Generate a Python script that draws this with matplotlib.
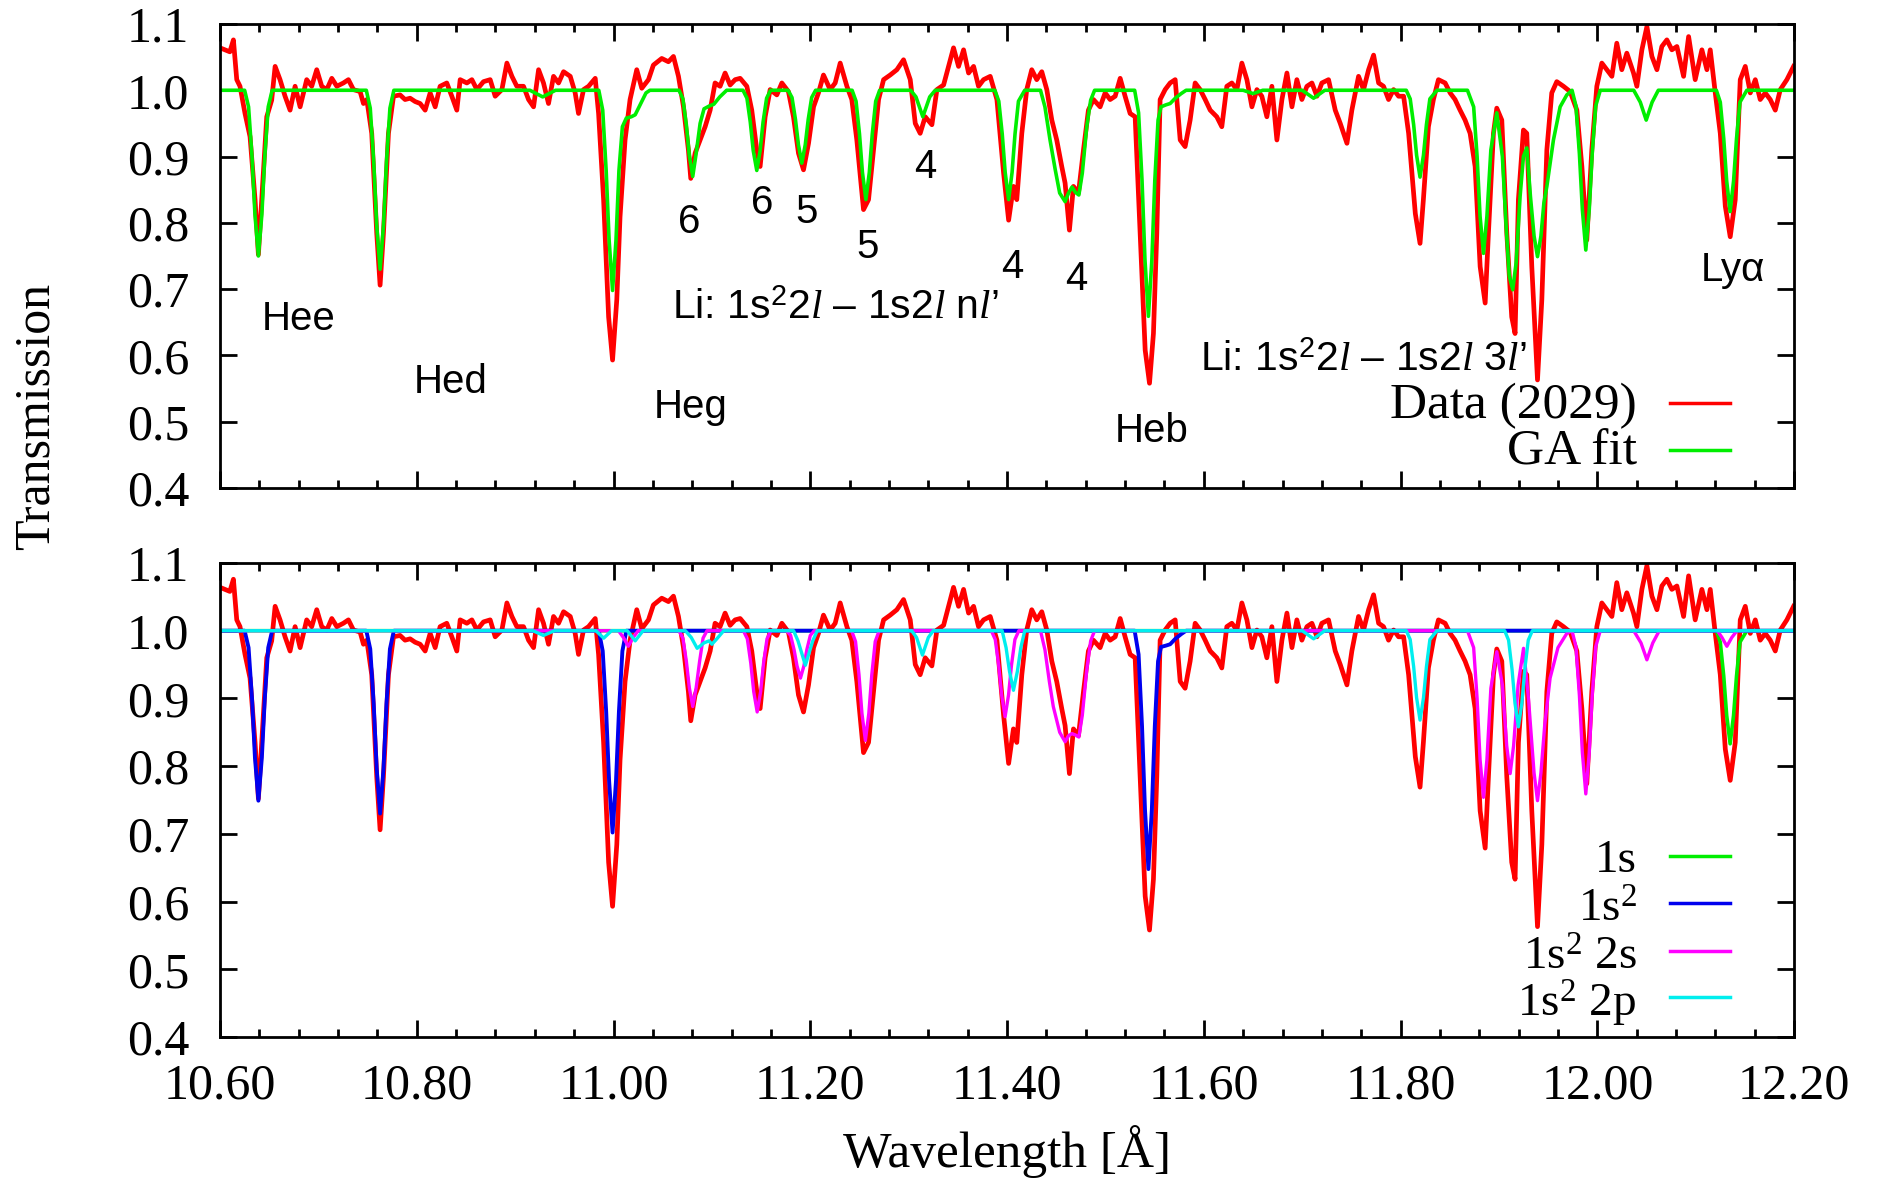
import matplotlib
matplotlib.use("Agg")
import matplotlib.pyplot as plt
from matplotlib.ticker import MultipleLocator, FormatStrFormatter
from matplotlib.lines import Line2D

# measured spectrum (2029), wavelength [A] / transmission
data_wl = [
    10.600, 10.605, 10.610, 10.6136, 10.617, 10.6203, 10.6254, 10.6305, 10.6356, 10.639, 10.6424, 10.6475,
    10.6525, 10.656, 10.661, 10.6661, 10.6712, 10.6763, 10.6814, 10.6881, 10.6932, 10.6983, 10.7034, 10.7085,
    10.7136, 10.7187, 10.7254, 10.7305, 10.7356, 10.7424, 10.7458, 10.7492, 10.7542, 10.7593, 10.7627, 10.7661,
    10.7712, 10.7763, 10.783, 10.7881, 10.7932, 10.7983, 10.8034, 10.8085, 10.8136, 10.8187, 10.8237, 10.8305,
    10.8356, 10.8407, 10.8441, 10.8509, 10.856, 10.8611, 10.8678, 10.8746, 10.8797, 10.8865, 10.8916, 10.8967,
    10.9017, 10.9085, 10.9136, 10.9187, 10.9238, 10.9288, 10.9339, 10.939, 10.9441, 10.9492, 10.956, 10.961,
    10.9644, 10.9695, 10.9746, 10.9814, 10.9848, 10.9899, 10.995, 10.999,
    11.0033, 11.0066, 11.0117, 11.0168, 11.0236, 11.0287, 11.0355, 11.0405, 11.049, 11.0558, 11.0609, 11.066,
    11.0711, 11.0761, 11.0785, 11.0829, 11.088, 11.0931, 11.0982, 11.1032, 11.1083, 11.1134, 11.1185, 11.1236,
    11.1287, 11.1355, 11.1405, 11.1456, 11.149, 11.1541, 11.1592, 11.166, 11.1711, 11.1778, 11.1829, 11.188,
    11.1931, 11.1982, 11.2033, 11.2083, 11.2134, 11.2202, 11.2253, 11.2304, 11.2372, 11.2422, 11.2473, 11.2541,
    11.2592, 11.2643, 11.2694, 11.2745, 11.2812, 11.288, 11.2948, 11.3016, 11.3067, 11.3117, 11.3168, 11.3236,
    11.3287, 11.3355, 11.3405, 11.3456, 11.3507, 11.3558, 11.3609, 11.366, 11.371, 11.3761, 11.3829, 11.3897,
    11.3965, 11.4016,
    11.4065, 11.4099, 11.415, 11.420, 11.4251, 11.4302, 11.4353, 11.4404, 11.4455, 11.4505, 11.4556, 11.459,
    11.4634, 11.4675, 11.4726, 11.4777, 11.4827, 11.4878, 11.4946, 11.4997, 11.5048, 11.5099, 11.515, 11.520,
    11.5251, 11.5302, 11.5353, 11.5404, 11.5448, 11.5488, 11.5522, 11.5556, 11.5607, 11.5658, 11.5709, 11.576,
    11.581, 11.5861, 11.5912, 11.5963, 11.6014, 11.6065, 11.6132, 11.6183, 11.6234, 11.6285, 11.6336, 11.6387,
    11.6438, 11.6489, 11.654, 11.659, 11.6641, 11.6692, 11.6743, 11.6794, 11.6845, 11.6896, 11.6946, 11.6997,
    11.7048, 11.7099, 11.715, 11.720, 11.7268, 11.7336, 11.7387, 11.7455, 11.7505, 11.7573, 11.7624, 11.7675,
    11.7726, 11.7777, 11.7827, 11.7878, 11.7929, 11.798, 11.8031, 11.8082, 11.815,
    11.8198, 11.8232, 11.8283, 11.8334, 11.8385, 11.8453, 11.8504, 11.8554, 11.8605, 11.8656, 11.8707, 11.8758,
    11.8809, 11.886, 11.8893, 11.8944, 11.8978, 11.9029, 11.908, 11.913, 11.9164, 11.9198, 11.9249, 11.9283,
    11.9334, 11.9392, 11.9436, 11.9487, 11.9537, 11.9588, 11.9656, 11.9724, 11.9792, 11.9843, 11.9893, 11.9944,
    11.9995, 12.0046, 12.0097, 12.0148, 12.0198, 12.0249, 12.030, 12.0368, 12.0402, 12.0453, 12.0504, 12.0555,
    12.0606, 12.0656, 12.0707, 12.0758, 12.0809, 12.0877, 12.0928, 12.0995, 12.1063, 12.1114, 12.1148, 12.1199,
    12.125, 12.1301, 12.1351, 12.1402, 12.1453, 12.1504, 12.1555, 12.1606, 12.1656, 12.1707, 12.1758, 12.1809,
    12.186, 12.1927, 12.1995,
]
data_tr = [
    1.064, 1.061, 1.058, 1.076, 1.016, 1.006, 0.965, 0.930, 0.835, 0.752, 0.835, 0.960,
    0.985, 1.036, 1.016, 0.991, 0.970, 1.006, 0.975, 1.016, 1.006, 1.031, 1.006, 1.001,
    1.018, 1.006, 1.011, 1.016, 1.001, 0.998, 0.980, 0.986, 0.935, 0.784, 0.706, 0.784,
    0.935, 0.991, 0.993, 0.986, 0.988, 0.983, 0.980, 0.970, 0.996, 0.975, 1.006, 1.011,
    0.991, 0.970, 1.016, 1.011, 1.016, 1.001, 1.013, 1.016, 0.991, 1.001, 1.041, 1.021,
    1.006, 1.006, 0.986, 0.975, 1.031, 1.011, 0.980, 1.021, 1.011, 1.028, 1.021, 0.996,
    0.965, 1.001, 1.006, 1.018, 0.965, 0.835, 0.658, 0.593,
    0.684, 0.809, 0.925, 0.986, 1.031, 1.003, 1.016, 1.038, 1.048, 1.043, 1.051, 1.021,
    0.975, 0.910, 0.867, 0.905, 0.925, 0.945, 0.970, 1.011, 1.006, 1.026, 1.008, 1.016,
    1.018, 1.006, 0.970, 0.910, 0.885, 0.960, 1.001, 0.993, 1.011, 0.998, 0.960, 0.905,
    0.880, 0.920, 0.975, 0.996, 1.023, 1.001, 1.011, 1.041, 1.006, 0.986, 0.925, 0.820,
    0.835, 0.910, 0.986, 1.016, 1.023, 1.031, 1.046, 1.016, 0.950, 0.935, 0.960, 0.948,
    1.001, 1.008, 1.036, 1.064, 1.036, 1.061, 1.026, 1.036, 1.006, 1.016, 1.021, 0.986,
    0.875, 0.804,
    0.855, 0.835, 0.935, 1.001, 1.031, 1.016, 1.028, 1.001, 0.955, 0.925, 0.885, 0.860,
    0.789, 0.855, 0.845, 0.910, 0.970, 0.986, 0.975, 0.996, 0.986, 0.991, 1.018, 0.991,
    0.965, 0.960, 0.784, 0.608, 0.558, 0.633, 0.784, 0.986, 1.001, 1.011, 1.016, 0.925,
    0.915, 0.955, 1.011, 1.001, 0.986, 0.970, 0.960, 0.945, 1.006, 1.011, 1.001, 1.041,
    1.016, 0.975, 1.001, 0.991, 0.960, 1.006, 0.925, 0.986, 1.026, 0.975, 1.016, 0.986,
    1.006, 1.011, 0.991, 1.011, 1.016, 0.970, 0.950, 0.920, 0.970, 1.021, 1.001, 1.031,
    1.053, 1.011, 1.006, 0.986, 1.001, 0.991, 0.991, 0.935, 0.814,
    0.769, 0.835, 0.945, 0.986, 1.016, 1.011, 0.996, 0.986, 0.970, 0.955, 0.935, 0.885,
    0.734, 0.679, 0.784, 0.935, 0.973, 0.955, 0.784, 0.658, 0.633, 0.835, 0.940, 0.935,
    0.734, 0.563, 0.684, 0.910, 0.996, 1.013, 1.006, 0.998, 0.970, 0.885, 0.774, 0.910,
    1.006, 1.041, 1.031, 1.021, 1.071, 1.031, 1.056, 1.026, 1.006, 1.061, 1.096, 1.051,
    1.031, 1.066, 1.076, 1.061, 1.066, 1.021, 1.081, 1.016, 1.061, 1.031, 1.061, 0.996,
    0.935, 0.825, 0.779, 0.835, 1.016, 1.036, 0.996, 1.016, 0.986, 0.996, 0.986, 0.970,
    1.001, 1.016, 1.036,
]

# GA fit (total model)
fit_wl = [
    10.600, 10.625, 10.629, 10.6325, 10.6355, 10.639, 10.6425, 10.6455, 10.649, 10.653,
    10.7487, 10.7527, 10.7562, 10.7592, 10.7627, 10.7662, 10.7692, 10.7727, 10.7767,
    10.915, 10.928, 10.941,
    10.985, 10.989, 10.9925, 10.9955, 10.999, 11.0025, 11.0055, 11.009, 11.013, 11.018, 11.022, 11.027, 11.033, 11.037,
    11.0665, 11.0705, 11.074, 11.077, 11.0805, 11.084, 11.088, 11.092, 11.097, 11.102, 11.108, 11.115,
    11.1316, 11.1356, 11.139, 11.142, 11.1456, 11.149, 11.152, 11.1556, 11.1596,
    11.1774, 11.1814, 11.1849, 11.1879, 11.1914, 11.1949, 11.1979, 11.2014, 11.2054,
    11.2425, 11.2465, 11.250, 11.253, 11.2565, 11.260, 11.263, 11.2665, 11.2705,
    11.302, 11.3074, 11.3109, 11.3144, 11.3179, 11.3214, 11.327,
    11.3876, 11.3916, 11.3951, 11.3981, 11.4016, 11.4051, 11.4081, 11.4116, 11.418,
    11.434, 11.4385, 11.4437, 11.449, 11.4535, 11.459, 11.4625, 11.466, 11.4695, 11.473, 11.4765, 11.481, 11.485, 11.489,
    11.5297, 11.5337, 11.5372, 11.5402, 11.5437, 11.5472, 11.5502, 11.5535, 11.5565, 11.5615, 11.5658, 11.571, 11.577, 11.582,
    11.640, 11.650, 11.660, 11.700, 11.7116, 11.723,
    11.8058, 11.8098, 11.8133, 11.8163, 11.8198, 11.8233, 11.8263, 11.8298, 11.837,
    11.868, 11.8743, 11.8778, 11.8808, 11.8843, 11.8878, 11.8918, 11.8978, 11.9035, 11.9075, 11.9105, 11.914,
    11.9175, 11.9215, 11.9249, 11.9283, 11.932, 11.9357, 11.9392, 11.9427, 11.9457, 11.9487, 11.9554, 11.9622, 11.969,
    11.9743, 11.9783, 11.9818, 11.9848, 11.9883, 11.9918, 11.9948, 11.9983, 12.003,
    12.037, 12.0437, 12.0497, 12.0557, 12.062,
    12.121, 12.125, 12.1285, 12.1315, 12.135, 12.1385, 12.1415, 12.145, 12.152, 12.200,
]
fit_tr = [
    1.000, 1.000, 0.975, 0.900, 0.8125, 0.750, 0.8125, 0.900, 0.975, 1.000,
    1.000, 0.973, 0.892, 0.797, 0.730, 0.797, 0.892, 0.973, 1.000,
    1.000, 0.990, 1.000,
    1.000, 0.970, 0.879, 0.774, 0.698, 0.774, 0.879, 0.945, 0.958, 0.960, 0.963, 0.978, 0.996, 1.000,
    1.000, 0.987, 0.948, 0.902, 0.870, 0.905, 0.950, 0.972, 0.976, 0.979, 0.990, 1.000,
    1.000, 0.988, 0.952, 0.909, 0.879, 0.909, 0.952, 0.988, 1.000,
    1.000, 0.989, 0.956, 0.918, 0.890, 0.918, 0.956, 0.989, 1.000,
    1.000, 0.9835, 0.934, 0.876, 0.835, 0.876, 0.934, 0.9835, 1.000,
    1.000, 0.990, 0.975, 0.960, 0.975, 0.990, 1.000,
    1.000, 0.9835, 0.934, 0.876, 0.835, 0.876, 0.934, 0.9835, 1.000,
    1.000, 0.975, 0.925, 0.880, 0.845, 0.832, 0.845, 0.854, 0.846, 0.842, 0.875, 0.945, 0.985, 1.000,
    1.000, 0.966, 0.864, 0.744, 0.659, 0.744, 0.864, 0.955, 0.975, 0.978, 0.980, 0.988, 0.995, 1.000,
    1.000, 0.995, 1.000, 1.000, 0.988, 1.000,
    1.000, 0.987, 0.948, 0.902, 0.869, 0.902, 0.948, 0.987, 1.000,
    1.000, 0.975, 0.900, 0.810, 0.754, 0.810, 0.910, 0.966, 0.900, 0.790, 0.720, 0.699,
    0.740, 0.840, 0.900, 0.913, 0.840, 0.780, 0.749, 0.780, 0.830, 0.855, 0.925, 0.975, 0.993,
    1.000, 0.976, 0.904, 0.820, 0.759, 0.820, 0.904, 0.976, 1.000,
    1.000, 0.982, 0.955, 0.982, 1.000,
    1.000, 0.982, 0.927, 0.863, 0.817, 0.863, 0.927, 0.982, 1.000, 1.000,
]

# fit components
s1_wl = [10.600, 12.121, 12.125, 12.1285, 12.1315, 12.135, 12.1385, 12.1415, 12.145, 12.152, 12.200]
s1_tr = [1.000, 1.000, 0.983, 0.933, 0.875, 0.833, 0.875, 0.933, 0.983, 1.000, 1.000]

s2_wl = [
    10.600, 10.625, 10.629, 10.6325, 10.6355, 10.639, 10.6425, 10.6455, 10.649, 10.653,
    10.7487, 10.7527, 10.7562, 10.7592, 10.7627, 10.7662, 10.7692, 10.7727, 10.7767,
    10.985, 10.989, 10.9925, 10.9955, 10.999, 11.0025, 11.0055, 11.009, 11.013,
    11.5297, 11.5337, 11.5372, 11.5402, 11.5437, 11.5472, 11.5502, 11.5535, 11.5565, 11.5615, 11.5658, 11.571,
    11.577, 11.582, 12.200,
]
s2_tr = [
    1.000, 1.000, 0.975, 0.900, 0.8125, 0.749, 0.8125, 0.900, 0.975, 1.000,
    1.000, 0.973, 0.892, 0.797, 0.730, 0.797, 0.892, 0.973, 1.000,
    1.000, 0.970, 0.881, 0.778, 0.702, 0.778, 0.881, 0.970, 1.000,
    1.000, 0.965, 0.859, 0.736, 0.648, 0.736, 0.859, 0.955, 0.976, 0.978, 0.980, 0.988,
    0.995, 1.000, 1.000,
]

s2s_wl = [
    10.600, 11.005, 11.010, 11.015, 11.020, 11.025,
    11.0665, 11.0705, 11.074, 11.077, 11.0805, 11.084, 11.0875, 11.091, 11.095,
    11.132, 11.136, 11.1395, 11.1425, 11.146, 11.1495, 11.1525, 11.156, 11.160,
    11.176, 11.180, 11.1835, 11.1865, 11.190, 11.1935, 11.1965, 11.200, 11.204,
    11.242, 11.246, 11.2495, 11.2525, 11.256, 11.2595, 11.2625, 11.266, 11.270,
    11.384, 11.388, 11.3915, 11.3945, 11.398, 11.4015, 11.4045, 11.408, 11.412,
    11.434, 11.4385, 11.443, 11.447, 11.4535, 11.459, 11.4625, 11.466, 11.4695, 11.473, 11.4765, 11.481, 11.485, 11.489,
    11.868, 11.8743, 11.8778, 11.8808, 11.8843, 11.8878, 11.8918, 11.8978, 11.9035, 11.9079, 11.9114, 11.9149,
    11.9195, 11.925, 11.930, 11.9357, 11.9392, 11.9427, 11.9465, 11.952, 11.960, 11.969,
    11.9743, 11.9783, 11.9818, 11.9848, 11.9883, 11.9918, 11.9948, 11.9983, 12.003,
    12.037, 12.0444, 12.0504, 12.0564, 12.063,
    12.122, 12.1267, 12.1317, 12.1367, 12.142, 12.200,
]
s2s_tr = [
    1.000, 1.000, 0.990, 0.977, 0.990, 1.000,
    1.000, 0.989, 0.955, 0.916, 0.888, 0.916, 0.955, 0.989, 1.000,
    1.000, 0.988, 0.952, 0.910, 0.880, 0.910, 0.952, 0.988, 1.000,
    1.000, 0.993, 0.972, 0.948, 0.930, 0.948, 0.972, 0.993, 1.000,
    1.000, 0.984, 0.935, 0.878, 0.838, 0.878, 0.935, 0.984, 1.000,
    1.000, 0.987, 0.949, 0.905, 0.873, 0.905, 0.949, 0.987, 1.000,
    1.000, 0.972, 0.925, 0.888, 0.850, 0.836, 0.845, 0.848, 0.846, 0.843, 0.875, 0.942, 0.985, 1.000,
    1.000, 0.975, 0.900, 0.810, 0.754, 0.810, 0.915, 0.969, 0.920, 0.830, 0.789, 0.830,
    0.920, 0.974, 0.900, 0.790, 0.749, 0.790, 0.860, 0.930, 0.975, 0.996,
    1.000, 0.976, 0.904, 0.820, 0.759, 0.820, 0.904, 0.976, 1.000,
    1.000, 0.982, 0.957, 0.982, 1.000,
    1.000, 0.990, 0.977, 0.990, 1.000, 1.000,
]

s2p_wl = [
    10.600, 10.918, 10.9288, 10.940, 10.982, 10.990, 10.998, 11.014, 11.022, 11.030,
    11.073, 11.079, 11.085, 11.092, 11.097, 11.100, 11.105, 11.112,
    11.183, 11.1875, 11.195, 11.2025, 11.207,
    11.303, 11.308, 11.314, 11.320, 11.325,
    11.395, 11.399, 11.4025, 11.4065, 11.4105, 11.414, 11.418,
    11.700, 11.7116, 11.723,
    11.8058, 11.8098, 11.8133, 11.8163, 11.8198, 11.8233, 11.8263, 11.8298, 11.837,
    11.9058, 11.9098, 11.9133, 11.9163, 11.9198, 11.9233, 11.9263, 11.9298, 11.934, 12.200,
]
s2p_tr = [
    1.000, 1.000, 0.993, 1.000, 1.000, 0.989, 1.000, 1.000, 0.985, 1.000,
    1.000, 0.990, 0.974, 0.982, 0.985, 0.980, 0.988, 1.000,
    1.000, 0.985, 0.949, 0.985, 1.000,
    1.000, 0.990, 0.964, 0.990, 1.000,
    1.000, 0.975, 0.940, 0.912, 0.940, 0.975, 1.000,
    1.000, 0.988, 1.000,
    1.000, 0.987, 0.947, 0.901, 0.868, 0.901, 0.947, 0.987, 1.000,
    1.000, 0.986, 0.943, 0.893, 0.858, 0.893, 0.943, 0.986, 1.000, 1.000,
]

plt.rcParams['font.family'] = ['Liberation Serif', 'DejaVu Serif']
plt.rcParams['mathtext.fontset'] = 'custom'
plt.rcParams['mathtext.it'] = 'Liberation Serif:italic'
plt.rcParams['mathtext.rm'] = 'Liberation Sans'
plt.rcParams['mathtext.sf'] = 'Liberation Serif'

RED = '#ff0000'
GREEN = '#00ee00'
BLUE = '#0000ee'
MAGENTA = '#ff00ff'
CYAN = '#00eeee'

fig = plt.figure(figsize=(18.79, 11.81), dpi=100)
ax1 = fig.add_axes([0.1171, 0.5868, 0.8377, 0.3929])
ax2 = fig.add_axes([0.1171, 0.1219, 0.8377, 0.4014])


def style(ax, labels):
    ax.set_xlim(10.6, 12.2)
    ax.set_ylim(0.4, 1.1)
    ax.xaxis.set_major_locator(MultipleLocator(0.2))
    ax.xaxis.set_minor_locator(MultipleLocator(0.04))
    ax.yaxis.set_major_locator(MultipleLocator(0.1))
    ax.xaxis.set_major_formatter(FormatStrFormatter('%.2f'))
    ax.yaxis.set_major_formatter(FormatStrFormatter('%.1f'))
    ax.tick_params(which='both', direction='in', top=True, right=True, width=2)
    ax.tick_params(which='major', length=12, labelsize=36)
    ax.tick_params(which='minor', length=6)
    ax.tick_params(axis='y', pad=22)
    ax.tick_params(axis='x', pad=19, labelbottom=labels)
    for sp in ax.spines.values():
        sp.set_linewidth(2)


def key(ax, y_text, y_line, label, color, size=37):
    ax.text(0.900, y_text, label, transform=ax.transAxes, ha='right', va='baseline', fontsize=size)
    ax.add_line(Line2D([0.921, 0.959], [y_line, y_line], transform=ax.transAxes, color=color, lw=2.5))


# top panel
ax1.plot(data_wl, data_tr, color=RED, lw=3.4)
ax1.plot(fit_wl, fit_tr, color=GREEN, lw=2.6)
style(ax1, False)

sans = dict(family=['Liberation Sans', 'DejaVu Sans'], fontsize=29, ha='center', va='baseline')
ax1.text(10.680, 0.638, 'Hee', **sans)
ax1.text(10.834, 0.544, 'Hed', **sans)
ax1.text(11.078, 0.505, 'Heg', **sans)
ax1.text(11.547, 0.469, 'Heb', **sans)
ax1.text(12.138, 0.713, 'Lyα', **sans)
ax1.text(11.077, 0.785, '6', **sans)
ax1.text(11.151, 0.8135, '6', **sans)
ax1.text(11.196, 0.800, '5', **sans)
ax1.text(11.258, 0.747, '5', **sans)
ax1.text(11.317, 0.868, '4', **sans)
ax1.text(11.405, 0.717, '4', **sans)
ax1.text(11.470, 0.698, '4', **sans)
ax1.text(11.0595, 0.656, 'Li: 1s$^2$2$l$ – 1s2$l$ n$l$’',
         family=['Liberation Sans', 'DejaVu Sans'], fontsize=29.5, ha='left', va='baseline')
ax1.text(11.596, 0.577, 'Li: 1s$^2$2$l$ – 1s2$l$ 3$l$’',
         family=['Liberation Sans', 'DejaVu Sans'], fontsize=29.5, ha='left', va='baseline')

key(ax1, 0.151, 0.183, 'Data (2029)', RED)
key(ax1, 0.050, 0.082, 'GA fit', GREEN)

# bottom panel
ax2.plot(data_wl, data_tr, color=RED, lw=3.4)
ax2.plot(s1_wl, s1_tr, color=GREEN, lw=2.6)
ax2.plot(s2_wl, s2_tr, color=BLUE, lw=2.8)
ax2.plot(s2s_wl, s2s_tr, color=MAGENTA, lw=2.4)
ax2.plot(s2p_wl, s2p_tr, color=CYAN, lw=2.4)
style(ax2, True)

key(ax2, 0.349, 0.382, '1s', GREEN, 34)
key(ax2, 0.243, 0.283, '1s$^{\\mathsf{2}}$', BLUE, 34)
key(ax2, 0.141, 0.181, '1s$^{\\mathsf{2}}$ 2s', MAGENTA, 34)
key(ax2, 0.042, 0.084, '1s$^{\\mathsf{2}}$ 2p', CYAN, 34)

fig.text(0.0192, 0.647, 'Transmission', rotation=90, ha='center', va='center', fontsize=36)
fig.text(0.536, 0.0119, 'Wavelength [Å]', ha='center', va='baseline', fontsize=37)

fig.savefig('out.png', dpi=100)
